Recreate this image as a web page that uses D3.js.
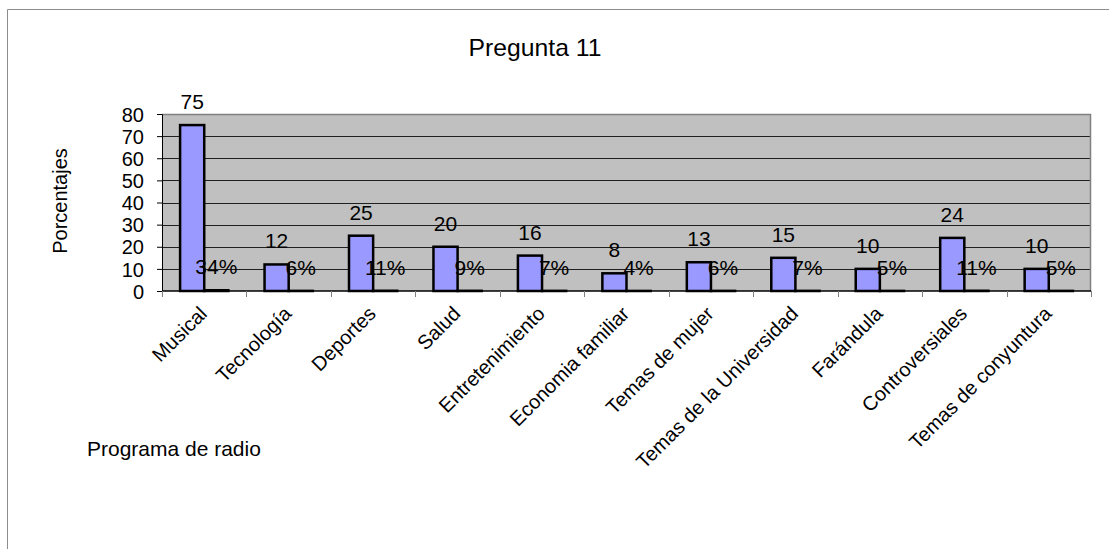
<!DOCTYPE html>
<html>
<head>
<meta charset="utf-8">
<script src="https://cdn.jsdelivr.net/npm/d3@7/dist/d3.min.js"></script>
<style>
  html, body { margin: 0; padding: 0; background: #fff; }
  svg text { font-family: "Liberation Sans", Arial, sans-serif; fill: #000; }
</style>
</head>
<body>
<svg id="chart" width="1109" height="549"></svg>
<script>
const categories = ["Musical", "Tecnología", "Deportes", "Salud", "Entretenimiento", "Economia familiar", "Temas de mujer", "Temas de la Universidad", "Farándula", "Controversiales", "Temas de conyuntura"];
const counts = [75, 12, 25, 20, 16, 8, 13, 15, 10, 24, 10];
const percents = [0.34, 0.06, 0.11, 0.09, 0.07, 0.04, 0.06, 0.07, 0.05, 0.11, 0.05];
const yTicks = [0, 10, 20, 30, 40, 50, 60, 70, 80];
const title = "Pregunta 11";
const yTitle = "Porcentajes";
const xTitle = "Programa de radio";

const svg = d3.select("#chart");
const FS = 20, SX = 1.05;

// outer frame
svg.append("path").attr("d", "M7.5,549 V9.5 H1109").attr("fill", "none").attr("stroke", "#8c8c8c").attr("stroke-width", 1);

const L = 162, R = 1091, T = 114, B = 291;
const x = d3.scaleBand().domain(categories).range([L, R]).padding(0);
const y = d3.scaleLinear().domain([0, 80]).range([B, T]);
const bw = x.bandwidth();
const w = bw / 3.5;

// plot area
svg.append("rect").attr("x", L).attr("y", T).attr("width", R - L).attr("height", B - T).attr("fill", "#c0c0c0");
svg.append("g").selectAll("line").data(yTicks.filter(t => t > 0 && t < 80)).join("line")
  .attr("x1", L).attr("x2", R).attr("y1", d => Math.round(y(d)) + 0.5).attr("y2", d => Math.round(y(d)) + 0.5)
  .attr("stroke", "#202020").attr("stroke-width", 1);
svg.append("path").attr("d", `M${L},${T + 0.5} H${R - 0.5} V${B}`).attr("fill", "none").attr("stroke", "#808080").attr("stroke-width", 1.5);

// y axis
const yAxis = d3.axisLeft(y).tickValues(yTicks).tickSize(5).tickPadding(13);
const gy = svg.append("g").attr("transform", `translate(${L},0)`).call(yAxis);
gy.select(".domain").attr("stroke", "#000").attr("stroke-width", 1);
gy.selectAll(".tick line").attr("stroke", "#000");
gy.selectAll(".tick text").attr("font-size", FS).attr("font-family", "Liberation Sans, Arial, sans-serif").attr("fill", "#000")
  .attr("dy", "0.36em");

// x axis
const gx = svg.append("g").attr("transform", `translate(0,${B})`);
gx.append("line").attr("x1", L).attr("x2", R).attr("y1", 0).attr("y2", 0).attr("stroke", "#000").attr("stroke-width", 1.5);
const bounds = categories.map(c => x(c)).concat([R]);
gx.selectAll("line.tk").data(bounds).join("line").attr("class", "tk")
  .attr("x1", d => Math.round(d) + 0.5).attr("x2", d => Math.round(d) + 0.5).attr("y1", 0).attr("y2", 6)
  .attr("stroke", "#808080").attr("stroke-width", 1);

// bars: counts
svg.append("g").selectAll("rect").data(counts).join("rect")
  .attr("x", (d, i) => x(categories[i]) + 0.75 * w)
  .attr("y", d => y(d))
  .attr("width", w)
  .attr("height", d => y(0) - y(d))
  .attr("fill", "#9999ff").attr("stroke", "#000").attr("stroke-width", 2.5);

// bars: percents
svg.append("g").selectAll("rect").data(percents).join("rect")
  .attr("x", (d, i) => x(categories[i]) + 1.75 * w)
  .attr("y", d => y(d))
  .attr("width", w)
  .attr("height", d => y(0) - y(d))
  .attr("fill", "#000").attr("stroke", "#000").attr("stroke-width", 2.5);

// labels
svg.append("g").selectAll("text").data(counts).join("text")
  .attr("transform", (d, i) => `translate(${x(categories[i]) + 1.25 * w},${y(d) - 16}) scale(${SX},1)`)
  .attr("text-anchor", "middle").attr("font-size", FS).text(d => d);
svg.append("g").selectAll("text").data(percents).join("text")
  .attr("transform", (d, i) => `translate(${x(categories[i]) + 2.25 * w},${y(d) - 16}) scale(${SX},1)`)
  .attr("text-anchor", "middle").attr("font-size", FS).text(d => Math.round(d * 100) + "%");

// category labels
svg.append("g").selectAll("text").data(categories).join("text")
  .attr("transform", d => `translate(${x(d) + bw / 2 + 4},${B + 24}) rotate(-45)`)
  .attr("text-anchor", "end").attr("font-size", FS).text(d => d);

// titles
svg.append("text").attr("transform", `translate(535,56) scale(1.03,1)`).attr("text-anchor", "middle").attr("font-size", 24).text(title);
svg.append("text").attr("transform", `translate(67,201) rotate(-90)`).attr("text-anchor", "middle").attr("font-size", FS).text(yTitle);
svg.append("text").attr("transform", `translate(87,456) scale(${SX},1)`).attr("text-anchor", "start").attr("font-size", FS).text(xTitle);
</script>
</body>
</html>
